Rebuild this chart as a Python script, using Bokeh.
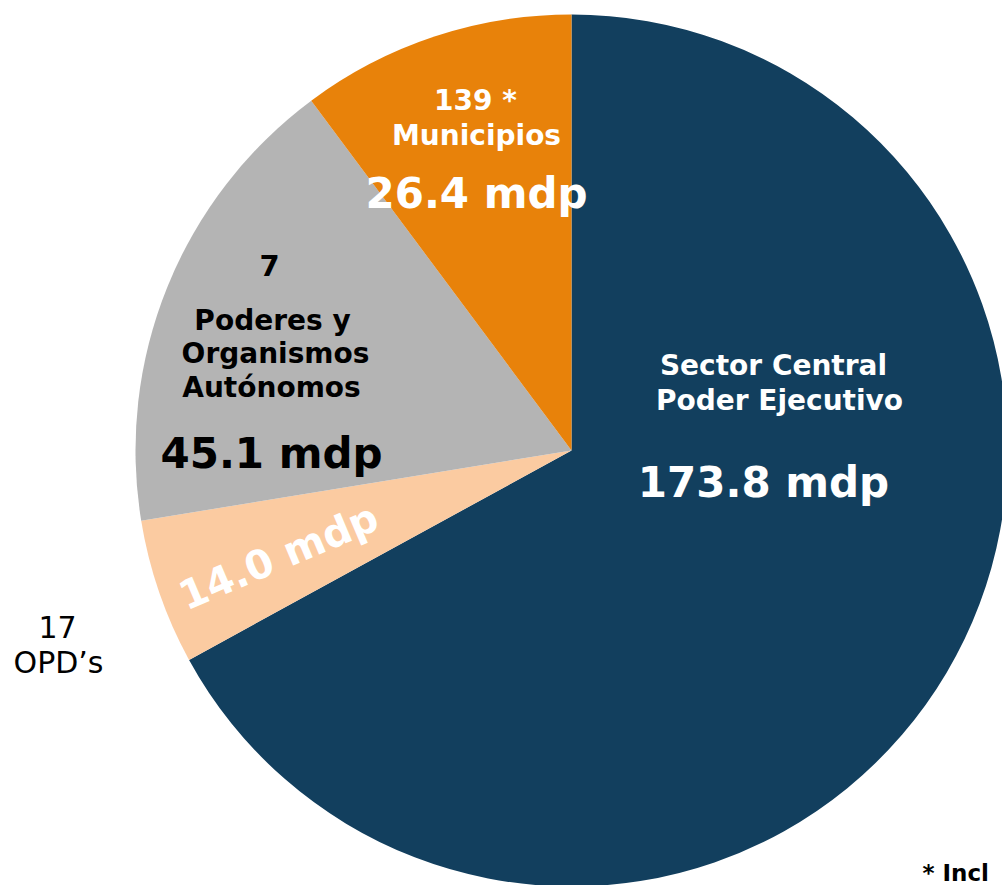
import math
from bokeh.plotting import figure
from bokeh.models import ColumnDataSource
from bokeh.core.properties import value
from bokeh.embed import file_html
from bokeh.resources import INLINE

# ---- data ----
categories = ["Sector Central Poder Ejecutivo", "OPD's", "Poderes y Organismos Autónomos", "Municipios"]
amounts = [173.8, 14.0, 45.1, 26.4]
colors = ["#123F5E", "#FBCBA1", "#B4B4B4", "#E8820A"]

W, H = 1002, 885
p = figure(width=W, height=H, x_range=(0, W), y_range=(0, H),
           output_backend="svg", toolbar_location=None, min_border=0)
p.axis.visible = False
p.grid.visible = False
p.outline_line_color = None
p.background_fill_color = "white"
p.border_fill_color = "white"

def sx(X):
    return X

def sy(Y):
    return H - Y

total = sum(amounts)
starts, ends = [], []
cum = 0.0
for a in amounts:
    starts.append(math.pi / 2 - 2 * math.pi * cum / total)
    cum += a
    ends.append(math.pi / 2 - 2 * math.pi * cum / total)

cx, cy, r = sx(571), sy(450), 436
src = ColumnDataSource(dict(x=[cx] * len(amounts), y=[cy] * len(amounts),
                            start=starts, end=ends, color=colors, cat=categories))
p.wedge(x="x", y="y", radius=r, start_angle="start", end_angle="end",
        direction="clock", fill_color="color", line_color=None, source=src)

FONT = value("DejaVu Sans")

def label(X, Y, txt, size, color, style="bold", align="center", angle=0.0, baseline="alphabetic"):
    p.text(x=[sx(X)], y=[sy(Y)], text=[txt], text_font=FONT, text_font_size=value(f"{size}px"),
           text_font_style=style, text_color=color, text_align=align,
           text_baseline=baseline, angle=angle)

# Sector Central
label(773, 365, "Sector Central", 28, "white")
label(779, 400, "Poder Ejecutivo", 28, "white")
label(763, 482, f"{amounts[0]:.1f} mdp", 42, "white")

# Poderes y Organismos
label(269, 265, "7", 29, "black")
label(272, 320, "Poderes y", 28, "black")
label(275, 353, "Organismos", 28, "black")
label(271, 387, "Autónomos", 28, "black")
label(271, 453, f"{amounts[2]:.1f} mdp", 42, "black")

# Municipios
label(475, 100, "139 *", 28, "white")
label(476, 135, "Municipios", 28, "white")
label(476, 193, f"{amounts[3]:.1f} mdp", 42, "white")

# OPD's
label(278, 556, f"{amounts[1]:.1f} mdp", 40, "white", angle=math.radians(23), baseline="middle")
label(57, 626, "17", 30, "black", style="normal")
label(58, 662, "OPD’s", 30, "black", style="normal")

# footnote (at the bottom-right corner)
label(922, 872, "* Incl", 23, "black", align="left")

open("out.html", "w").write(file_html(p, INLINE))
